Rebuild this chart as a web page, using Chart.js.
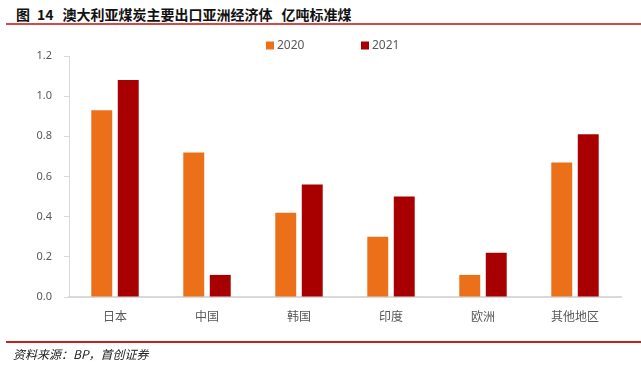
<!DOCTYPE html>
<html>
<head>
<meta charset="utf-8">
<script src="https://cdn.jsdelivr.net/npm/chart.js@4.4.1/dist/chart.umd.min.js"></script>
<style>
body { margin: 0; background: #fff; }
#wrap { position: relative; width: 641px; height: 365px; overflow: hidden; font-family: "Noto Sans CJK SC", "Noto Sans", sans-serif; }
#chartBox { position: absolute; left: 0; top: 0; width: 641px; height: 365px; }
.title { position: absolute; left: 16px; top: 4px; font-size: 14px; font-weight: bold; color: #111; white-space: nowrap; line-height: 20px; }
.title span { display: inline-block; }
.rule { position: absolute; left: 6px; right: 0; height: 2px; background: #d24a4a; }
.source { position: absolute; left: 13px; top: 345px; font-size: 12px; font-style: italic; color: #222; line-height: 18px; white-space: nowrap; }
</style>
</head>
<body>
<div id="wrap">
    <div class="title"><span>图</span><span style="margin-left:7px">14</span><span style="margin-left:9px">澳大利亚煤炭主要出口亚洲经济体</span><span style="margin-left:9px">亿吨标准煤</span></div>
    <div class="rule" style="top:23px"></div>
    <div id="chartBox"><canvas id="chart"></canvas></div>
    <div class="rule" style="top:341px; background:#c81e1e"></div>
    <div class="source">资料来源：BP，首创证券</div>
</div>
<script>
// categorie e valori
var categories = ['日本', '中国', '韩国', '印度', '欧洲', '其他地区'];
var seriesNames = ['2020', '2021'];
var values2020 = [0.93, 0.72, 0.42, 0.30, 0.11, 0.67];
var values2021 = [1.08, 0.11, 0.56, 0.50, 0.22, 0.81];
var yMin = 0;
var yMax = 1.2;
var yStep = 0.2;

var labelColor = '#595959';
var axisColor = '#d9d9d9';

// legenda disegnata sopra l'area del grafico
var topLegend = {
    id: 'topLegend',
    afterDraw: function(chart) {
        var ctx = chart.ctx;
        var startX = [266, 361];
        ctx.save();
        ctx.font = '12px "Noto Sans", sans-serif';
        ctx.textBaseline = 'middle';
        ctx.textAlign = 'left';
        chart.data.datasets.forEach(function(ds, i) {
            ctx.fillStyle = ds.backgroundColor;
            ctx.fillRect(startX[i], 41.5, 8, 8);
            ctx.fillStyle = labelColor;
            ctx.fillText(ds.label, startX[i] + 11, 45.5);
        });
        ctx.restore();
    }
};

var chart = new Chart(document.getElementById('chart'), {
    type: 'bar',
    data: {
        labels: categories,
        datasets: [{
            label: seriesNames[0],
            data: values2020,
            backgroundColor: '#eb7019',
            categoryPercentage: 0.576,
            barPercentage: 0.79
        }, {
            label: seriesNames[1],
            data: values2021,
            backgroundColor: '#a80000',
            categoryPercentage: 0.576,
            barPercentage: 0.79
        }]
    },
    options: {
        responsive: true,
        maintainAspectRatio: false,
        animation: false,
        layout: {
            padding: { top: 56, right: 20, bottom: 28, left: 0 }
        },
        plugins: {
            legend: { display: false },
            tooltip: { enabled: false }
        },
        scales: {
            x: {
                grid: { drawOnChartArea: false, drawTicks: false },
                border: { display: true, color: axisColor, width: 2 },
                ticks: {
                    color: labelColor,
                    padding: 12,
                    font: { size: 12, family: '"Noto Sans CJK SC", sans-serif' }
                },
                afterFit: function(scale) { scale.height = 40; }
            },
            y: {
                min: yMin,
                max: yMax,
                grid: { drawOnChartArea: false, drawTicks: true, tickLength: 5, color: axisColor },
                border: { display: true, color: axisColor, width: 1 },
                ticks: {
                    stepSize: yStep,
                    color: labelColor,
                    padding: 12,
                    font: { size: 11, family: '"Noto Sans", sans-serif' },
                    callback: function(value) { return value.toFixed(1); }
                },
                afterFit: function(scale) { scale.width = 69; }
            }
        }
    },
    plugins: [topLegend]
});
</script>
</body>
</html>
